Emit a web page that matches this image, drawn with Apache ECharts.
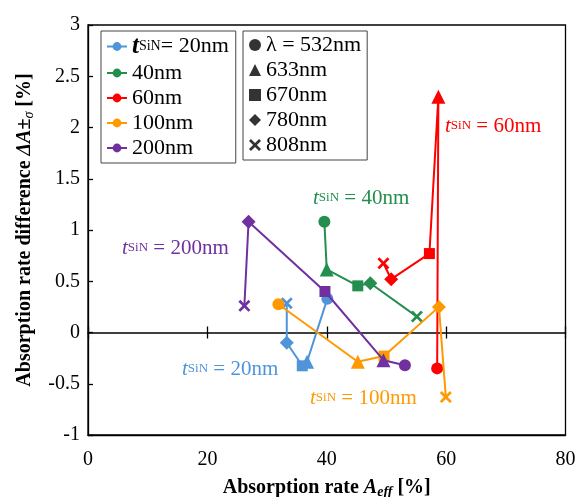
<!DOCTYPE html>
<html><head><meta charset="utf-8">
<script src="https://cdn.jsdelivr.net/npm/echarts@6/dist/echarts.min.js"></script>
<style>html,body{margin:0;padding:0;background:#fff}#c{width:577px;height:497px}</style>
</head><body><div id="c"></div>
<script>
// ---- data ----
const wavelengths = ['532nm', '633nm', '670nm', '780nm', '808nm'];
const thicknesses = ['20nm', '40nm', '60nm', '100nm', '200nm'];
const aeff20  = [40.1, 36.7, 35.9, 33.3, 33.3];
const dA20    = [0.33, -0.285, -0.325, -0.10, 0.285];
const aeff40  = [39.6, 40.0, 45.2, 47.3, 55.1];
const dA40    = [1.08, 0.615, 0.455, 0.48, 0.155];
const aeff60  = [58.5, 58.7, 57.2, 50.8, 49.5];
const dA60    = [-0.35, 2.30, 0.77, 0.52, 0.675];
const aeff100 = [31.9, 45.2, 49.6, 58.8, 59.95];
const dA100   = [0.275, -0.285, -0.23, 0.25, -0.63];
const aeff200 = [53.1, 49.5, 39.7, 26.9, 26.2];
const dA200   = [-0.32, -0.27, 0.40, 1.08, 0.26];
const xTicks = [0, 20, 40, 60, 80];
const yTicks = [-1, -0.5, 0, 0.5, 1, 1.5, 2, 2.5, 3];

// ---- styles ----
const FONT = 'Liberation Serif';
const CROSS = 'path://M0,1.6L1.6,0L5,3.4L8.4,0L10,1.6L6.6,5L10,8.4L8.4,10L5,6.6L1.6,10L0,8.4L3.4,5Z';
const waveSymbols = ['circle', 'triangle', 'rect', 'diamond', CROSS];
const waveSizes = [12, 14, 11, 14, 12];
const colors = ['#4F94DA', '#238E4E', '#FF0000', '#FF9900', '#7030A0'];
const seriesData = [[aeff20, dA20], [aeff40, dA40], [aeff60, dA60], [aeff100, dA100], [aeff200, dA200]];
const annotPos = [[182, 369], [313, 198], [445, 126], [310, 398], [122, 248]];

const series = thicknesses.map((name, k) => ({
  type: 'line', name, xAxisIndex: 0, yAxisIndex: 0,
  symbol: 'circle', symbolSize: 10, showAllSymbol: true,
  lineStyle: { color: colors[k], width: 2 },
  itemStyle: { color: colors[k] },
  z: 2 + k,
  data: seriesData[k][0].map((x, i) => ({ value: [x, seriesData[k][1][i]], symbol: waveSymbols[i], symbolSize: waveSizes[i] }))
}));
const waveNames = wavelengths.map((w, i) => i === 0 ? '\u03bb = ' + w : w);
waveNames.forEach((n, i) => series.push({
  type: 'scatter', name: n, xAxisIndex: 0, yAxisIndex: 0,
  symbol: waveSymbols[i], itemStyle: { color: '#000' }, data: []
}));

function annot(k) {
  const c = colors[k];
  return {
    type: 'text', x: annotPos[k][0], y: annotPos[k][1], z: 100,
    style: {
      text: '{t|t}{s|SiN}{n| = ' + thicknesses[k] + '}',
      verticalAlign: 'middle', align: 'left',
      rich: {
        t: { fontFamily: FONT, fontSize: 21, fontStyle: 'italic', fill: c, color: c },
        s: { fontFamily: FONT, fontSize: 13, fill: c, color: c },
        n: { fontFamily: FONT, fontSize: 21, fill: c, color: c }
      }
    }
  };
}

const axisLabelStyle = { fontFamily: FONT, fontSize: 20, color: '#000' };
const chart = echarts.init(document.getElementById('c'), null, { renderer: 'canvas' });
chart.setOption({
  animation: false,
  backgroundColor: '#fff',
  grid: [
    { left: 88, right: 11.5, top: 25, bottom: 62, outerBoundsMode: 'none', containLabel: false, show: true, borderColor: '#000', borderWidth: 1.3, backgroundColor: 'transparent' },
    { left: 88, right: 11.5, top: 25, bottom: 62, outerBoundsMode: 'none', containLabel: false, show: false }
  ],
  xAxis: [
    { type: 'value', gridIndex: 0, position: 'bottom', min: xTicks[0], max: xTicks[xTicks.length - 1], interval: 20,
      axisLine: { show: true, onZero: false, lineStyle: { color: '#000', width: 1.3 } },
      axisTick: { show: false }, splitLine: { show: false },
      axisLabel: Object.assign({ margin: 15 }, axisLabelStyle),
      name: '{b|Absorption rate }{i|A}{e|eff}{b| [%]}', nameLocation: 'middle', nameGap: 42,
      nameTextStyle: { rich: {
        b: { fontFamily: FONT, fontSize: 20, fontWeight: 'bold', color: '#000' },
        i: { fontFamily: FONT, fontSize: 20, fontWeight: 'bold', fontStyle: 'italic', color: '#000' },
        e: { fontFamily: FONT, fontSize: 14, fontWeight: 'bold', fontStyle: 'italic', color: '#000', padding: [8, 0, 0, 0] }
      } } },
    { type: 'value', gridIndex: 0, position: 'top', min: xTicks[0], max: xTicks[xTicks.length - 1], interval: 20,
      axisLine: { show: true, onZero: true, lineStyle: { color: '#000', width: 1.5 } },
      axisTick: { show: true, inside: false, length: 6, lineStyle: { color: '#000', width: 1.3 } },
      axisLabel: { show: false }, splitLine: { show: false } },
    { type: 'value', gridIndex: 1, position: 'bottom', min: xTicks[0], max: xTicks[xTicks.length - 1], interval: 20,
      axisLine: { show: false, onZero: true, lineStyle: { color: '#000', width: 1.5 } },
      axisTick: { show: true, inside: false, length: 6, lineStyle: { color: '#000', width: 1.3 } },
      axisLabel: { show: false }, splitLine: { show: false } }
  ],
  yAxis: [
    { type: 'value', gridIndex: 0, min: yTicks[0], max: yTicks[yTicks.length - 1], interval: 0.5,
      axisLine: { show: true, onZero: false, lineStyle: { color: '#000', width: 1.3 } },
      axisTick: { show: true, inside: true, length: 5, lineStyle: { color: '#000', width: 1.3 } },
      splitLine: { show: false },
      axisLabel: Object.assign({ margin: 8 }, axisLabelStyle),
      name: '{b|Absorption rate difference }{i|\u0394A}{b|\u00b1}{e|\u03c3}{b| [%]}', nameLocation: 'middle', nameGap: 52, nameRotate: 90,
      nameTextStyle: { rich: {
        b: { fontFamily: FONT, fontSize: 20, fontWeight: 'bold', color: '#000' },
        i: { fontFamily: FONT, fontSize: 20, fontWeight: 'bold', fontStyle: 'italic', color: '#000' },
        e: { fontFamily: FONT, fontSize: 14, fontStyle: 'italic', color: '#000', padding: [8, 0, 0, 0] }
      } } },
    { type: 'value', gridIndex: 1, min: yTicks[0], max: yTicks[yTicks.length - 1], interval: 0.5, show: false }
  ],
  legend: [
    { data: thicknesses, orient: 'vertical', left: 101, top: 31, padding: [3, 7, 4, 5], itemGap: 3,
      itemWidth: 20, itemHeight: 11, borderColor: '#444', borderWidth: 1, selectedMode: false,
      formatter: n => n === thicknesses[0] ? '{t|t}{s|SiN}{n|= ' + n + '}' : n,
      textStyle: { fontFamily: FONT, fontSize: 22, color: '#000', lineHeight: 22,
        rich: {
          t: { fontFamily: FONT, fontSize: 25, fontWeight: 'bold', fontStyle: 'italic', color: '#000', lineHeight: 22 },
          s: { fontFamily: FONT, fontSize: 14, color: '#000', lineHeight: 22 },
          n: { fontFamily: FONT, fontSize: 22, color: '#000', lineHeight: 22 }
        } } },
    { data: waveNames, orient: 'vertical', left: 243, top: 31, padding: [3, 6, 4, 6], itemGap: 3,
      itemWidth: 12, itemHeight: 12, borderColor: '#444', borderWidth: 1, selectedMode: false,
      textStyle: { fontFamily: FONT, fontSize: 22, color: '#000', lineHeight: 22 } }
  ],
  graphic: thicknesses.map((t, k) => annot(k)),
  series
});
</script></body></html>
